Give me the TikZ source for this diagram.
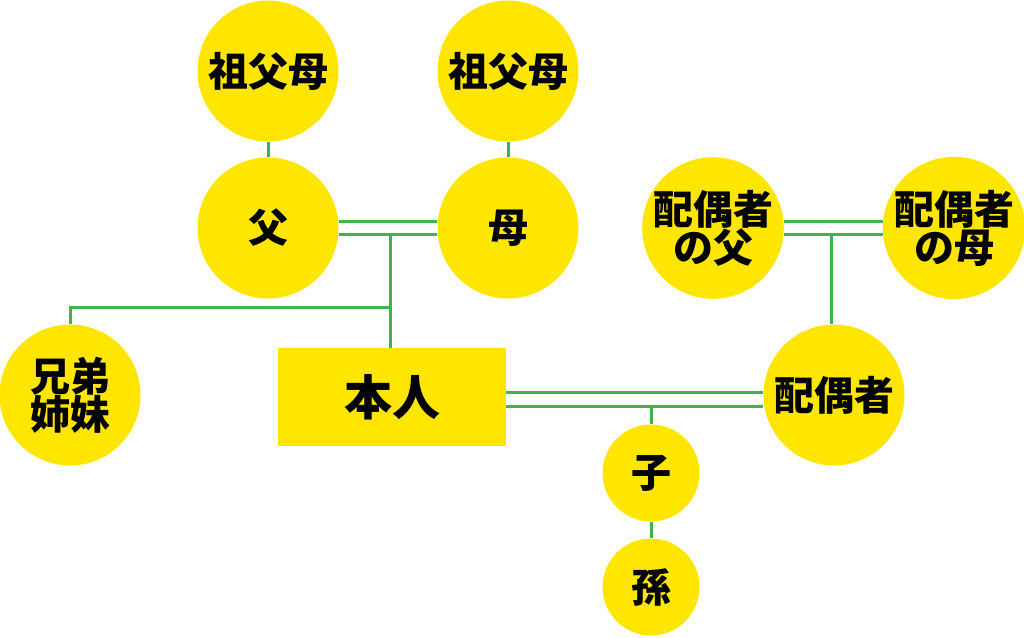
\documentclass[tikz,border=0pt]{standalone}
\usepackage{fontspec}
\newfontfamily\jpfont{Noto Sans CJK JP}
\usepackage{xcolor}
\definecolor{famyellow}{HTML}{FFE600}
\definecolor{famgreen}{HTML}{3DB54A}
\tikzset{
	person/.style={circle, fill=famyellow, minimum size=141pt, inner sep=0pt, align=center,
		font=\jpfont\bfseries\fontsize{40}{38}\selectfont},
	small person/.style={person, minimum size=97pt},
	self box/.style={rectangle, fill=famyellow, minimum width=228pt, minimum height=98pt,
		inner sep=0pt, font=\jpfont\bfseries\fontsize{48}{48}\selectfont},
	tie/.style={famgreen, line width=3pt},
}

\begin{document}
\begin{tikzpicture}[x=1pt, y=-1pt]

		\useasboundingbox (0, 0) rectangle (1024, 637);

		\node[person] (gpfa) at (268, 71) {祖父母};
		\node[person] (gpmo) at (508, 71) {祖父母};
		\node[person] (fa) at (268, 228) {父};
		\node[person] (mo) at (508, 228) {母};
		\node[person] (sib) at (70, 395) {兄弟\\姉妹};
		\node[self box] (me) at (392, 397) {本人};
		\node[person] (spfa) at (713, 228) {配偶者\\の父};
		\node[person] (spmo) at (954, 228) {配偶者\\の母};
		\node[person] (sp) at (834, 395) {配偶者};
		\node[small person] (ch) at (651, 473) {子};
		\node[small person] (gch) at (651, 587) {孫};

		\coordinate (pbr) at (390, 234);
		\coordinate (sbr) at (390, 307);
		\coordinate (spbr) at (831, 234);
		\coordinate (cbr) at (651, 406);

		\draw[tie] (gpfa) -- (fa);
		\draw[tie] (gpmo) -- (mo);
		\draw[tie] ([yshift=7pt]fa.east) -- ([yshift=7pt]mo.west);
		\draw[tie] ([yshift=-6pt]fa.east) -- ([yshift=-6pt]mo.west);
		\draw[tie] (pbr) -- (pbr |- me.north);
		\draw[tie] (sbr) -| (sib);

		\draw[tie] ([yshift=7pt]spfa.east) -- ([yshift=7pt]spmo.west);
		\draw[tie] ([yshift=-6pt]spfa.east) -- ([yshift=-6pt]spmo.west);
		\draw[tie] (spbr) -- (spbr |- sp.north);

		\draw[tie] ([yshift=5pt]me.east) -- ([yshift=5pt]me.east -| sp.west);
		\draw[tie] ([yshift=-9pt]me.east) -- ([yshift=-9pt]me.east -| sp.west);
		\draw[tie] (cbr) -- (ch);
		\draw[tie] (ch) -- (gch);

	\end{tikzpicture}
\end{document}
